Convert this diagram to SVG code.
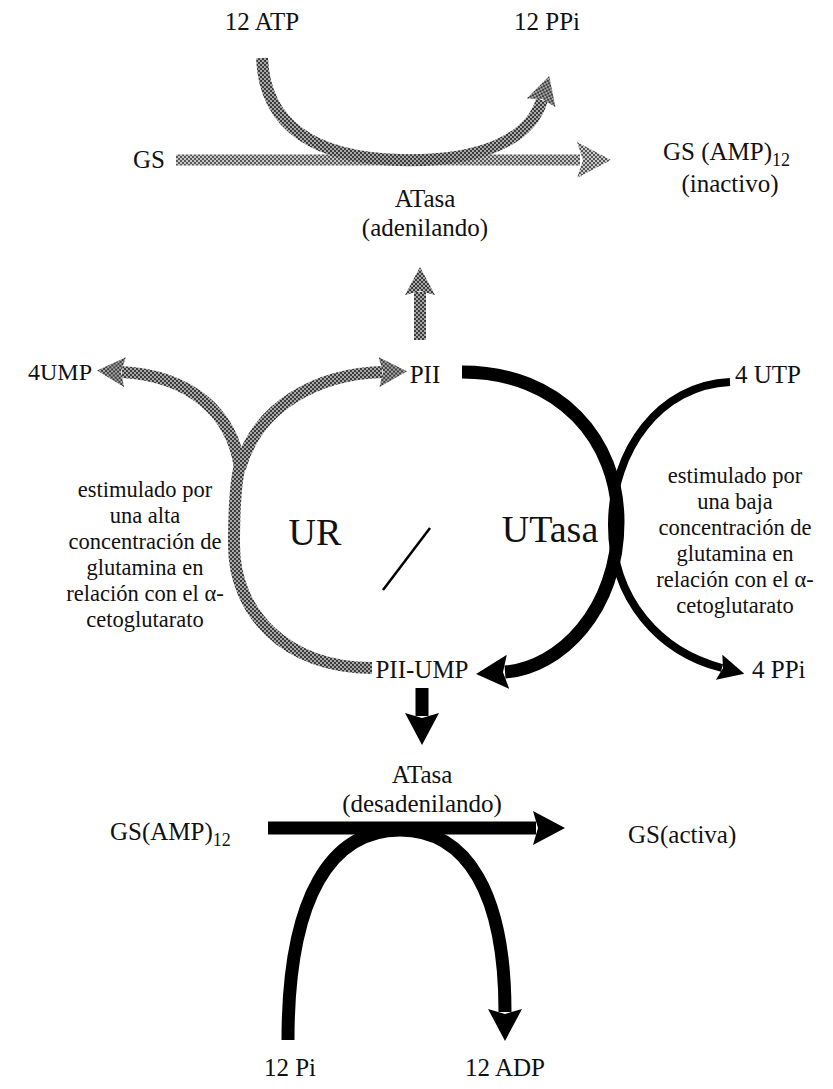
<svg xmlns="http://www.w3.org/2000/svg" width="833" height="1089" viewBox="0 0 833 1089">
<style>
text{font-family:"Liberation Serif","Times New Roman",serif;fill:#111}
.lb{font-size:25px}
.big{font-size:38px}
.sm{font-size:22.5px}
.g{fill:none;stroke:url(#ht);stroke-width:12}
.gl{fill:none;stroke:url(#hl);stroke-width:11}
.k{fill:none;stroke:#000;stroke-width:13}
.kt{fill:none;stroke:#000;stroke-width:8}
</style>
<defs>
<pattern id="ht" width="4" height="4" patternUnits="userSpaceOnUse">
<rect width="4" height="4" fill="#a8a8a8"/>
<rect width="2" height="2" fill="#3c3c3c"/>
<rect x="2" y="2" width="2" height="2" fill="#3c3c3c"/>
</pattern>
<pattern id="hl" width="4" height="4" patternUnits="userSpaceOnUse">
<rect width="4" height="4" fill="#c8c8c8"/>
<rect width="2" height="2" fill="#555"/>
<rect x="2" y="2" width="2" height="2" fill="#555"/>
</pattern>
<marker id="aK" markerUnits="userSpaceOnUse" viewBox="0 0 32 34" markerWidth="32" markerHeight="34" refX="3" refY="17" orient="auto"><path d="M0,0 L32,17 L0,34 L5,17 z" fill="#000"/></marker>
<marker id="aKs" markerUnits="userSpaceOnUse" viewBox="0 0 26 26" markerWidth="26" markerHeight="26" refX="3" refY="13" orient="auto"><path d="M0,0 L26,13 L0,26 L4,13 z" fill="#000"/></marker>
<marker id="aG" markerUnits="userSpaceOnUse" viewBox="0 0 28 30" markerWidth="28" markerHeight="30" refX="3" refY="15" orient="auto"><path d="M0,0 L28,15 L0,30 L4,15 z" fill="url(#ht)"/></marker>
<marker id="aGl" markerUnits="userSpaceOnUse" viewBox="0 0 34 36" markerWidth="34" markerHeight="36" refX="3" refY="18" orient="auto"><path d="M0,0 L34,18 L0,36 L6,18 z" fill="url(#hl)"/></marker>
</defs>
<rect width="833" height="1089" fill="#fff"/>
<g id="connectors">
<path class="gl" d="M176,160 L580,160" marker-end="url(#aGl)"/>
<path class="g" d="M262,58 C265,130 320,158 400,160 C480,162 530,140 542,100" marker-end="url(#aG)"/>
<path class="g" d="M420,340 L420,292" marker-end="url(#aG)"/>
<path class="g" d="M372,668 C285,668 234,612 234,545 C234,505 236,480 240,465"/>
<path class="g" d="M240,468 C232,412 190,376 122,372" marker-end="url(#aG)"/>
<path class="g" d="M240,468 C258,405 318,374 382,372" marker-end="url(#aG)"/>
<path class="k" d="M462,372 C560,372 618,440 618,522 C618,610 560,668 505,672" marker-end="url(#aK)"/>
<path class="kt" d="M730,382 C660,385 612,450 612,525 C612,600 660,652 722,668" marker-end="url(#aKs)"/>
<path class="k" d="M422,688 L422,716" marker-end="url(#aK)"/>
<path class="k" d="M268,828 L536,828" marker-end="url(#aK)"/>
<path class="k" d="M288,1040 C288,895 332,830 400,830 C468,830 505,895 505,1012" marker-end="url(#aK)"/>
<path d="M383,590 L430,528" stroke="#000" stroke-width="2.5" fill="none"/>
</g>
<g id="n-atp"><text class="lb" x="262" y="30" text-anchor="middle">12 ATP</text></g>
<g id="n-ppi"><text class="lb" x="547" y="30" text-anchor="middle">12 PPi</text></g>
<g id="n-gs"><text class="lb" x="133" y="168">GS</text></g>
<g id="n-gsamp"><text class="lb" x="663" y="160">GS (AMP)<tspan font-size="18" dy="6">12</tspan></text><text class="lb" x="730" y="192" text-anchor="middle">(inactivo)</text></g>
<g id="n-atasa1"><text class="lb" x="425" y="207" text-anchor="middle">ATasa</text><text class="lb" x="425" y="236" text-anchor="middle">(adenilando)</text></g>
<g id="n-4ump"><text x="28" y="380" font-size="24">4UMP</text></g>
<g id="n-pii"><text class="lb" x="425" y="383" text-anchor="middle">PII</text></g>
<g id="n-4utp"><text class="lb" x="735" y="383">4 UTP</text></g>
<g id="n-left">
<text class="sm" text-anchor="middle"><tspan x="145" y="497">estimulado por</tspan><tspan x="145" y="523">una alta</tspan><tspan x="145" y="549">concentración de</tspan><tspan x="145" y="575">glutamina en</tspan><tspan x="145" y="601">relación con el α-</tspan><tspan x="145" y="627">cetoglutarato</tspan></text>
</g>
<g id="n-right">
<text class="sm" text-anchor="middle"><tspan x="735" y="483">estimulado por</tspan><tspan x="735" y="509">una baja</tspan><tspan x="735" y="535">concentración de</tspan><tspan x="735" y="561">glutamina en</tspan><tspan x="735" y="587">relación con el α-</tspan><tspan x="735" y="613">cetoglutarato</tspan></text>
</g>
<g id="n-ur"><text class="big" x="315" y="545" text-anchor="middle">UR</text></g>
<g id="n-utasa"><text class="big" x="550" y="542" text-anchor="middle">UTasa</text></g>
<g id="n-piiump"><text class="lb" x="422" y="678" text-anchor="middle">PII-UMP</text></g>
<g id="n-4ppi"><text class="lb" x="752" y="678">4 PPi</text></g>
<g id="n-atasa2"><text class="lb" x="422" y="783" text-anchor="middle">ATasa</text><text class="lb" x="422" y="812" text-anchor="middle">(desadenilando)</text></g>
<g id="n-gsamp2"><text class="lb" x="110" y="840">GS(AMP)<tspan font-size="18" dy="6">12</tspan></text></g>
<g id="n-gsact"><text class="lb" x="628" y="843">GS(activa)</text></g>
<g id="n-pi"><text class="lb" x="290" y="1076" text-anchor="middle">12 Pi</text></g>
<g id="n-adp"><text class="lb" x="505" y="1076" text-anchor="middle">12 ADP</text></g>
</svg>
